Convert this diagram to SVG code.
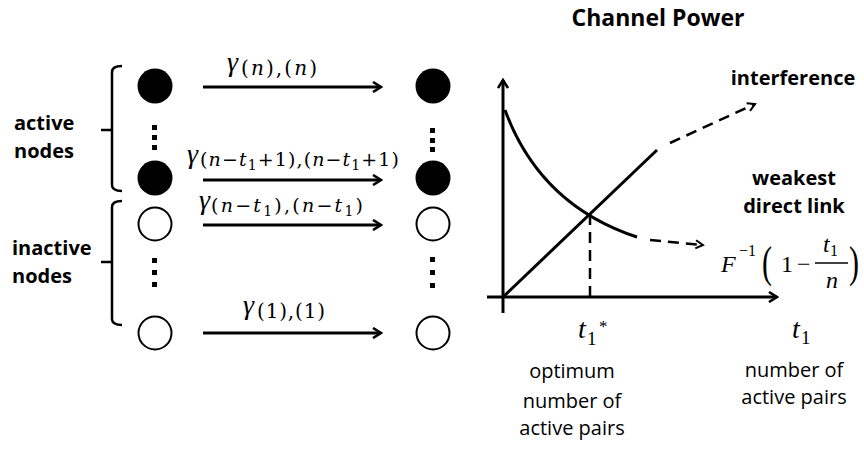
<svg xmlns="http://www.w3.org/2000/svg" width="864" height="451" viewBox="0 0 864 451">
<style>
.lbl{font-family:"Open Sans","Liberation Sans",sans-serif;fill:#000}
.b{font-weight:bold}
.m{font-family:"DejaVu Serif","Liberation Serif",serif;fill:#000}
.r{font-family:"Liberation Serif","DejaVu Serif",serif;fill:#000}
.g{font-family:"Liberation Serif","DejaVu Serif",serif;font-style:italic;fill:#000}
.i{font-style:italic}
.ln{stroke:#000;stroke-width:3;fill:none}
.dash{stroke:#000;stroke-width:2.5;fill:none;stroke-dasharray:11 7}
.br{stroke:#000;stroke-width:2.5;fill:none}
.on{fill:#000}
.off{fill:#fff;stroke:#000;stroke-width:2}
</style>
<defs>
<marker id="ah" viewBox="0 0 12 12" refX="10" refY="6" markerWidth="12" markerHeight="12" markerUnits="userSpaceOnUse" orient="auto">
<path d="M2,1 L10,6 L2,11" fill="none" stroke="#000" stroke-width="2.6"/>
</marker>
<marker id="ahs" viewBox="0 0 12 12" refX="10" refY="6" markerWidth="11" markerHeight="11" markerUnits="userSpaceOnUse" orient="auto">
<path d="M2,1.5 L10,6 L2,10.5" fill="none" stroke="#000" stroke-width="2.2"/>
</marker>
</defs>
<rect width="864" height="451" fill="#fff"/>

<g id="bracket-active">
<path class="br" d="M122,66 Q112,66 112,72 L112,185 Q112,191 122,191 M112,130 L101,130"/>
<text class="lbl b" x="14" y="130" font-size="20">active</text>
<text class="lbl b" x="14" y="158" font-size="20">nodes</text>
</g>
<g id="bracket-inactive">
<path class="br" d="M122,201 Q112,201 112,207 L112,319 Q112,325 122,325 M112,262 L101,262"/>
<text class="lbl b" x="12" y="255" font-size="20">inactive</text>
<text class="lbl b" x="12" y="283" font-size="20">nodes</text>
</g>

<g id="tx-n"><circle class="on" cx="155" cy="86" r="17.5"/></g>
<g id="tx-dots-top"><rect x="152" y="125" width="5" height="5"/><rect x="152" y="135" width="5" height="5"/><rect x="152" y="145" width="5" height="5"/></g>
<g id="tx-n-t1-1"><circle class="on" cx="155" cy="178" r="17.5"/></g>
<g id="tx-n-t1"><circle class="off" cx="155" cy="224" r="16.5"/></g>
<g id="tx-dots-bot"><rect x="152" y="258" width="5" height="5"/><rect x="152" y="270" width="5" height="5"/><rect x="152" y="282" width="5" height="5"/></g>
<g id="tx-1"><circle class="off" cx="155" cy="333" r="16.5"/></g>

<g id="rx-n"><circle class="on" cx="433" cy="86" r="17.5"/></g>
<g id="rx-dots-top"><rect x="430" y="128" width="5" height="5"/><rect x="430" y="138" width="5" height="5"/><rect x="430" y="147" width="5" height="5"/></g>
<g id="rx-n-t1-1"><circle class="on" cx="433" cy="178" r="17.5"/></g>
<g id="rx-n-t1"><circle class="off" cx="433" cy="224" r="16.5"/></g>
<g id="rx-dots-bot"><rect x="430" y="257" width="5" height="5"/><rect x="430" y="270" width="5" height="5"/><rect x="430" y="283" width="5" height="5"/></g>
<g id="rx-1"><circle class="off" cx="433" cy="333" r="16.5"/></g>

<g id="connectors">
<line class="ln" x1="203" y1="87" x2="381" y2="87" marker-end="url(#ah)"/>
<line class="ln" x1="203" y1="180" x2="381" y2="180" marker-end="url(#ah)"/>
<line class="ln" x1="203" y1="225" x2="381" y2="225" marker-end="url(#ah)"/>
<line class="ln" x1="203" y1="333" x2="381" y2="333" marker-end="url(#ah)"/>
</g>

<g id="label-n">
<text class="g" x="227" y="71" font-size="28">γ</text>
<text class="m" x="241" y="75" font-size="20" textLength="76" lengthAdjust="spacing">(<tspan class="i">n</tspan>),(<tspan class="i">n</tspan>)</text>
</g>
<g id="label-n-t1-1">
<text class="g" x="187" y="163" font-size="28">γ</text>
<text class="m" x="200" y="166" font-size="19" textLength="199" lengthAdjust="spacing">(<tspan class="i">n</tspan>−<tspan class="i">t</tspan><tspan font-size="14" dy="4">1</tspan><tspan dy="-4">+1),(</tspan><tspan class="i">n</tspan>−<tspan class="i">t</tspan><tspan font-size="14" dy="4">1</tspan><tspan dy="-4">+1)</tspan></text>
</g>
<g id="label-n-t1">
<text class="g" x="199" y="209" font-size="28">γ</text>
<text class="m" x="211" y="212" font-size="19" textLength="152" lengthAdjust="spacing">(<tspan class="i">n</tspan>−<tspan class="i">t</tspan><tspan font-size="14" dy="4">1</tspan><tspan dy="-4">),(</tspan><tspan class="i">n</tspan>−<tspan class="i">t</tspan><tspan font-size="14" dy="4">1</tspan><tspan dy="-4">)</tspan></text>
</g>
<g id="label-1">
<text class="g" x="243" y="314" font-size="28">γ</text>
<text class="m" x="257" y="318" font-size="20" textLength="68" lengthAdjust="spacing">(1),(1)</text>
</g>

<g id="chart">
<text class="lbl b" x="658" y="26" font-size="23" text-anchor="middle">Channel Power</text>
<line class="ln" x1="503" y1="313" x2="503" y2="80" marker-end="url(#ah)"/>
<line class="ln" x1="487" y1="297" x2="777" y2="297" marker-end="url(#ah)"/>
<path class="ln" d="M505,110 Q540,205 637,237"/>
<line class="ln" x1="503" y1="297" x2="657" y2="150"/>
<line class="dash" x1="590" y1="214" x2="590" y2="297"/>
<path class="dash" d="M650,240 L703,245" marker-end="url(#ahs)"/>
<path class="dash" d="M670,143 L755,104" marker-end="url(#ahs)"/>
</g>

<g id="label-interference"><text class="lbl b" x="793" y="85" font-size="20" text-anchor="middle">interference</text></g>
<g id="label-weakest">
<text class="lbl b" x="794" y="185" font-size="20" text-anchor="middle">weakest</text>
<text class="lbl b" x="794" y="213" font-size="20" text-anchor="middle">direct link</text>
</g>
<g id="label-F">
<text class="g" x="721" y="272" font-size="24">F</text>
<text class="r" x="739" y="256" font-size="16">−1</text>
<text class="r" x="762" y="277" font-size="30" transform="translate(762,277) scale(1,1.45) translate(-762,-277)">(</text>
<text class="r" x="781" y="272" font-size="24">1</text>
<text class="r" x="797" y="272" font-size="24">−</text>
<line x1="815" y1="263" x2="848" y2="263" stroke="#000" stroke-width="1.3"/>
<text class="g" x="823" y="252" font-size="24">t</text>
<text class="r" x="830" y="256" font-size="16">1</text>
<text class="g" x="826" y="288" font-size="24">n</text>
<text class="r" x="849" y="277" font-size="30" transform="translate(849,277) scale(1,1.45) translate(-849,-277)">)</text>
</g>

<g id="label-t1star">
<text class="g" x="578" y="338" font-size="28">t</text>
<text class="r" x="587" y="345" font-size="19">1</text>
<text class="r" x="599" y="332" font-size="17">*</text>
<text class="lbl" x="572" y="378" font-size="20" text-anchor="middle">optimum</text>
<text class="lbl" x="572" y="408" font-size="20" text-anchor="middle">number of</text>
<text class="lbl" x="572" y="435" font-size="20" text-anchor="middle">active pairs</text>
</g>
<g id="label-t1">
<text class="g" x="792" y="338" font-size="28">t</text>
<text class="r" x="801" y="344" font-size="19">1</text>
<text class="lbl" x="794" y="377" font-size="20" text-anchor="middle">number of</text>
<text class="lbl" x="794" y="404" font-size="20" text-anchor="middle">active pairs</text>
</g>
</svg>
